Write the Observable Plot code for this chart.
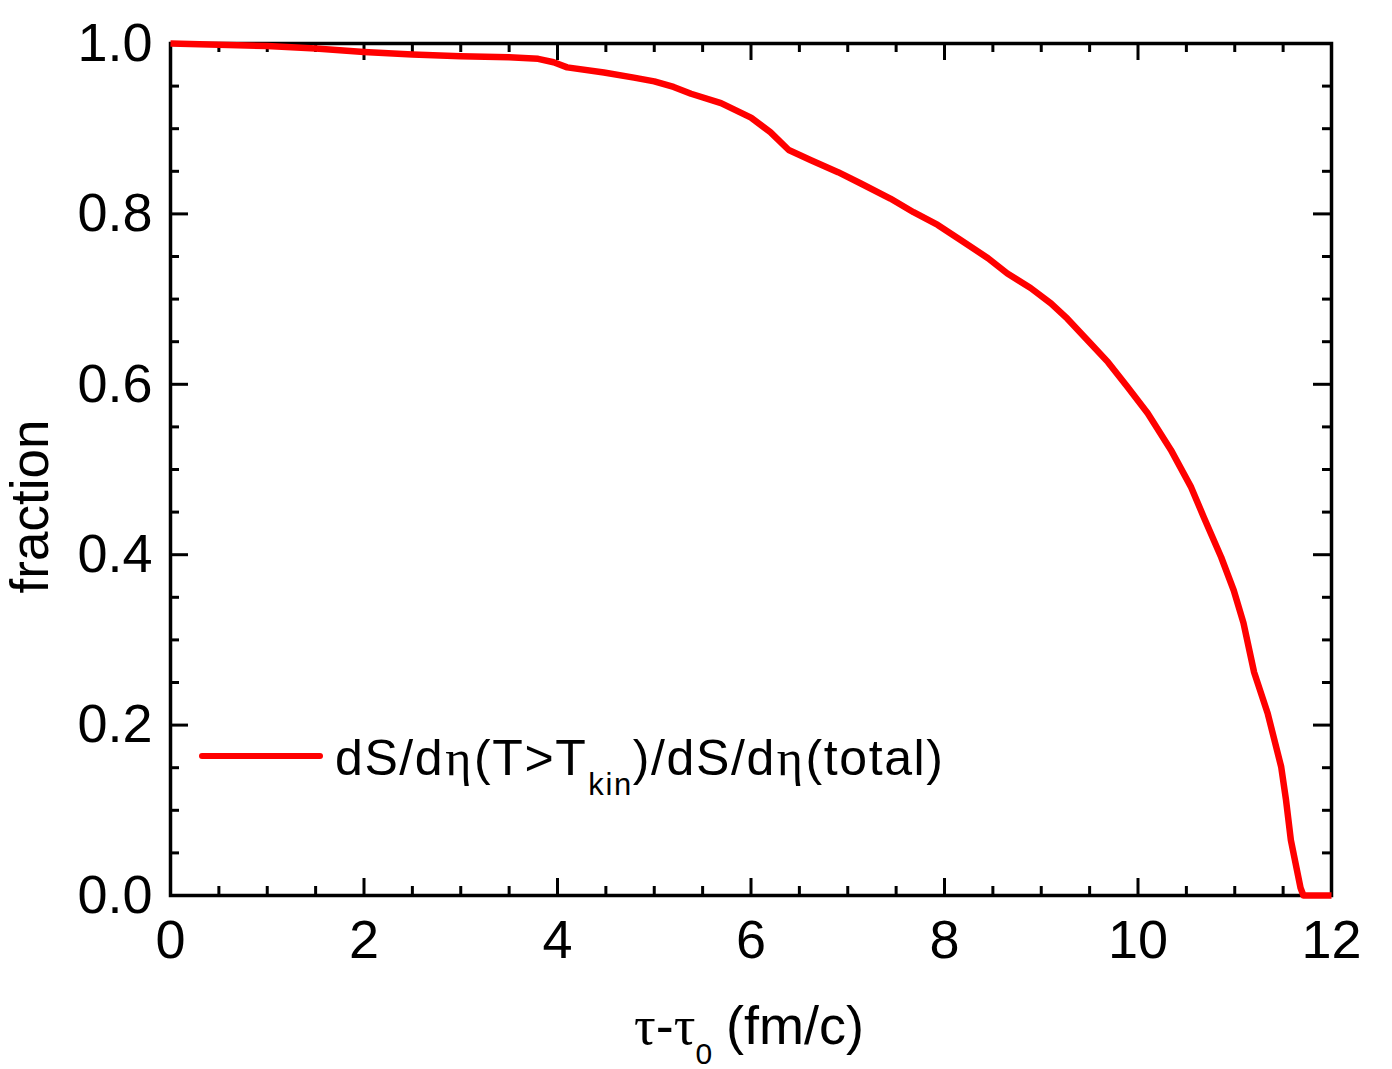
<!DOCTYPE html>
<html>
<head>
<meta charset="utf-8">
<script src="https://cdn.jsdelivr.net/npm/d3@7"></script>
<script src="https://cdn.jsdelivr.net/npm/@observablehq/plot@0.6"></script>
<style>
  html, body { margin: 0; padding: 0; background: #fff; }
  #chart { position: relative; width: 1392px; height: 1069px; }
</style>
</head>
<body>
<div id="chart"></div>
<script>
// Data
const tau = [0, 0.5, 1.0, 1.5, 2.0, 2.5, 3.0, 3.5, 3.8, 3.96, 4.1, 4.48, 4.79, 5.0, 5.2, 5.38, 5.69, 6.0, 6.2, 6.39, 6.62, 6.9, 7.13, 7.44, 7.68, 7.93, 8.17, 8.45, 8.65, 8.89, 9.1, 9.27, 9.51, 9.69, 9.89, 10.1, 10.34, 10.55, 10.68, 10.86, 10.99, 11.09, 11.2, 11.34, 11.48, 11.53, 11.58, 11.68, 11.71, 12.0];
const fraction = [1.0, 0.9985, 0.997, 0.994, 0.990, 0.987, 0.985, 0.984, 0.982, 0.978, 0.972, 0.966, 0.960, 0.9556, 0.949, 0.941, 0.930, 0.913, 0.896, 0.875, 0.863, 0.849, 0.836, 0.818, 0.802, 0.787, 0.769, 0.748, 0.730, 0.713, 0.695, 0.677, 0.648, 0.626, 0.597, 0.566, 0.523, 0.479, 0.444, 0.397, 0.358, 0.320, 0.262, 0.214, 0.151, 0.112, 0.065, 0.009, 0.0, 0.0];

const xMajorTicks = [0, 2, 4, 6, 8, 10, 12];
const xMinorTicks = [0.5, 1, 1.5, 2.5, 3, 3.5, 4.5, 5, 5.5, 6.5, 7, 7.5, 8.5, 9, 9.5, 10.5, 11, 11.5];
const yMajorTicks = [0, 0.2, 0.4, 0.6, 0.8, 1.0];
const yMinorTicks = [0.05, 0.1, 0.15, 0.25, 0.3, 0.35, 0.45, 0.5, 0.55, 0.65, 0.7, 0.75, 0.85, 0.9, 0.95];

const xLabel = "τ-τ0 (fm/c)";
const yLabel = "fraction";
const seriesName = "dS/dη(T>Tkin)/dS/dη(total)";

const W = 1392, H = 1069;
const mL = 170, mR = 61, mT = 43, mB = 174;
const fw = W - mL - mR, fh = H - mT - mB;
const major = 17, minor = 9;
const tickStyle = {stroke: "black", strokeWidth: 3};

const plot = Plot.plot({
  width: W, height: H,
  marginLeft: mL, marginRight: mR, marginTop: mT, marginBottom: mB,
  style: {fontFamily: "'Liberation Sans', Arial, sans-serif", background: "white", color: "black"},
  x: {domain: [0, 12]},
  y: {domain: [0, 1]},
  marks: [
    Plot.frame({stroke: "black", strokeWidth: 3.5}),
    // inward ticks: bottom / top
    Plot.tickX(xMajorTicks, {x: d => d, insetTop: fh - major, ...tickStyle}),
    Plot.tickX(xMinorTicks, {x: d => d, insetTop: fh - minor, ...tickStyle}),
    Plot.tickX(xMajorTicks, {x: d => d, insetBottom: fh - major, ...tickStyle}),
    Plot.tickX(xMinorTicks, {x: d => d, insetBottom: fh - minor, ...tickStyle}),
    // inward ticks: left / right
    Plot.tickY(yMajorTicks, {y: d => d, insetRight: fw - major - 1, ...tickStyle}),
    Plot.tickY(yMinorTicks, {y: d => d, insetRight: fw - minor, ...tickStyle}),
    Plot.tickY(yMajorTicks, {y: d => d, insetLeft: fw - major - 1, ...tickStyle}),
    Plot.tickY(yMinorTicks, {y: d => d, insetLeft: fw - minor, ...tickStyle}),
    Plot.axisX({ticks: xMajorTicks, tickSize: 0, tickPadding: 24, fontSize: 54, tickFormat: d3.format("d"), label: null}),
    Plot.axisY({ticks: yMajorTicks, tickSize: 0, tickPadding: 18, fontSize: 54, tickFormat: d3.format(".1f"), label: null}),
    Plot.text([xLabel], {frameAnchor: "bottom", dx: -2, dy: 148, textAnchor: "middle", lineAnchor: "bottom", fontSize: 54}),
    Plot.text([yLabel], {frameAnchor: "left", dx: 47 - mL, dy: 37, rotate: -90, textAnchor: "middle", lineAnchor: "bottom", fontSize: 53}),
    Plot.line(tau, {x: tau, y: fraction, stroke: "#ff0000", strokeWidth: 6.5, strokeLinejoin: "round", strokeLinecap: "butt"})
  ]
});

document.getElementById("chart").appendChild(plot);
const svg = d3.select(plot);
const greek = "'Liberation Serif', 'DejaVu Serif', serif";

// subscript in x label
svg.selectAll("text").filter(function() { return this.textContent === xLabel; }).each(function() {
  const t = d3.select(this);
  t.text(null);
  t.append("tspan").attr("font-family", greek).text("τ");
  t.append("tspan").text("-");
  t.append("tspan").attr("font-family", greek).text("τ");
  t.append("tspan").attr("font-size", 30).attr("dy", 20).text("0");
  t.append("tspan").attr("dy", -20).attr("dx", 14).text("(fm/c)");
});

// legend
const lg = svg.append("g").attr("class", "legend");
lg.append("line").attr("x1", 202).attr("x2", 320).attr("y1", 756).attr("y2", 756)
  .attr("stroke", "#ff0000").attr("stroke-width", 6).attr("stroke-linecap", "round");
const lt = lg.append("text").attr("x", 335).attr("y", 775).attr("font-size", 50)
  .attr("fill", "black").attr("text-anchor", "start").attr("letter-spacing", 1.6);
lt.append("tspan").text("dS/d");
lt.append("tspan").attr("font-family", greek).attr("dx", 1).text("η");
lt.append("tspan").attr("dx", 1).text("(T>T");
lt.append("tspan").attr("font-size", 31).attr("dy", 20).attr("dx", 1).text("kin");
lt.append("tspan").attr("dy", -20).text(")/dS/d");
lt.append("tspan").attr("font-family", greek).attr("dx", 1).text("η");
lt.append("tspan").attr("dx", 1).text("(total)");
</script>
</body>
</html>
